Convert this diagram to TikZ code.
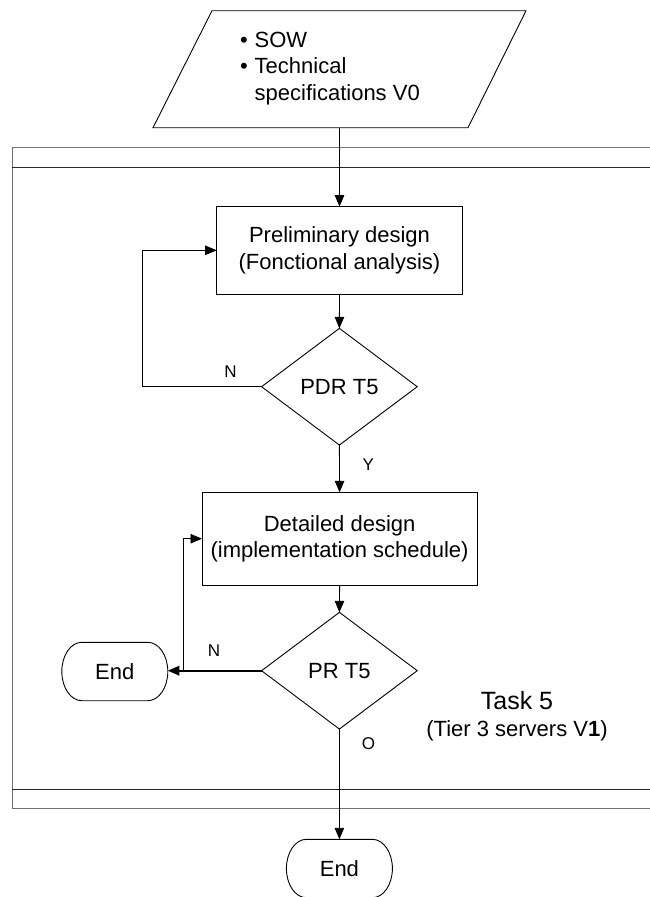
\documentclass[tikz,border=0pt]{standalone}
\usepackage{fontspec}
\setmainfont{Liberation Sans}
\usetikzlibrary{arrows.meta,shapes.geometric}

% outline of a terminal node: straight top and bottom, half-ellipse ends
\newcommand\terminaloutline[1]{%
  \draw[line width=0.9pt]
    ([xshift=20pt]#1.north west) -- ([xshift=-20pt]#1.north east)
    arc[start angle=90, end angle=-90, x radius=20pt, y radius=29.2pt]
    -- ([xshift=20pt]#1.south west)
    arc[start angle=270, end angle=90, x radius=20pt, y radius=29.2pt]
    -- cycle;}

\begin{document}
\begin{tikzpicture}[x=1pt,y=-1pt,
  every node/.style={font=\fontsize{22}{26.6}\selectfont, inner sep=0pt, outer sep=0pt},
  process/.style={draw, line width=0.9pt, align=center},
  decision/.style={draw, diamond, line width=0.9pt, minimum width=155.6pt, minimum height=116.7pt},
  terminal/.style={rectangle, minimum width=106pt, minimum height=58.4pt},
  flow/.style={line width=0.9pt, -{Triangle[length=11.5pt,width=9.5pt]}},
  lbl/.style={font=\fontsize{17}{20}\selectfont},
  frameout/.style={draw=black!55, line width=1pt},
  framein/.style={draw=black!85, line width=1pt},
]
\useasboundingbox (0,0) rectangle (649,897);

% task frame (runs off the right edge)
\draw[frameout] (670,147.7) -- (12,147.7) -- (12,808.3) -- (670,808.3);
\draw[framein] (12,167.3) -- (670,167.3);
\draw[framein] (12,789) -- (670,789);

% input document
\draw[line width=0.9pt] (212,10.7) -- (526,10.7) -- (468,127.7) -- (153,127.7) -- cycle;
\coordinate (inb) at (339.5,127.7);
\node[anchor=west] (inp) at (240,68.3) {%
  \begin{tabular}{@{}l@{\hspace{7pt}}l@{}}
  \textbullet & SOW\\
  \textbullet & Technical\\
  & specifications V0
  \end{tabular}};

% flow nodes
\node[process, minimum width=245.6pt, minimum height=87.3pt] (b1) at (339.5,250.3)
  {Preliminary design\\(Fonctional analysis)};
\node[decision] (d1) at (339.4,386.7) {PDR T5};
\node[process, minimum width=275.2pt, minimum height=92.7pt] (b2) at (339.6,538.7)
  {Detailed design\\(implementation schedule)};
\node[decision] (d2) at (339.4,670.7) {PR T5};
\node[terminal] (e1) at (114.8,671.5) {End};
\node[terminal] (e2) at (339.4,868.5) {End};
\terminaloutline{e1}
\terminaloutline{e2}

% task caption
\node[font=\fontsize{25}{30}\selectfont] (task) at (517,700.7) {Task 5};
\node (tier) at (517,731) {(Tier 3 servers V\textbf{1})};

% branch labels
\node[lbl] (n1) at (230.5,371.7) {N};
\node[lbl] (y1) at (368.4,465) {Y};
\node[lbl] (n2) at (214,650.7) {N};
\node[lbl] (o2) at (368.4,743.3) {O};

% connectors
\coordinate (fb1) at (142.7,386.7);
\coordinate (fb2) at (183.4,670.7);
\draw[flow] (inb) -- (b1.north);
\draw[flow] (b1.south) -- (d1.north);
\draw[flow] (d1.west) -- (fb1) |- (b1.west);
\draw[flow] (d1.south) -- (b2.north);
\draw[flow] (b2.south) -- (d2.north);
\draw[flow, line width=1.8pt] (d2.west) -- (e1.east |- d2.west);
\draw[flow] (d2.west) -- (fb2) |- (b2.west);
\draw[flow] (d2.south) -- (e2.north);
\end{tikzpicture}
\end{document}
